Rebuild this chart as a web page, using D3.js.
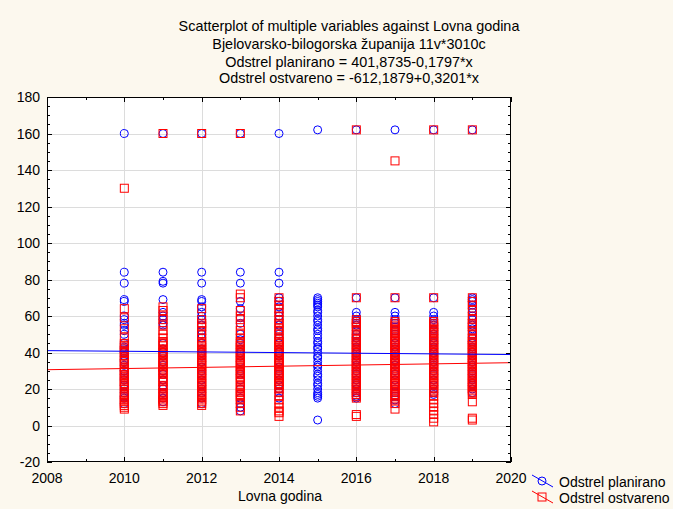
<!DOCTYPE html>
<html>
<head>
<meta charset="utf-8">
<script src="https://cdn.jsdelivr.net/npm/d3@7"></script>
<style>
  html, body { margin: 0; padding: 0; background: #FCF8EE; }
  svg { display: block; }
  text { font-family: "Liberation Sans", Arial, sans-serif; fill: #000; }
</style>
</head>
<body>
<svg id="chart" width="673" height="509"></svg>
<script>
// ---------- data ----------
const years = [2010, 2011, 2012, 2013, 2014, 2015, 2016, 2017, 2018, 2019];

const planned = [
  [160, 84, 78, 69, 68, 60, 58, 56, 55, 52, 50, 45, 43, 42, 41, 40, 40, 38, 36, 35, 33, 30, 30, 28, 26, 25, 22, 20, 18, 16, 15, 12],
  [160, 84, 79, 78, 69, 62, 60, 58, 56, 55, 45, 42, 40, 38, 35, 33, 30, 28, 25, 22, 20, 18, 15, 13],
  [160, 84, 78, 69, 68, 65, 62, 60, 58, 55, 52, 50, 48, 45, 42, 40, 38, 35, 32, 30, 28, 25, 22, 20, 18, 15, 12],
  [160, 84, 78, 68, 64, 59, 56, 50, 47, 45, 42, 40, 38, 35, 30, 28, 25, 20, 15, 12, 10, 8],
  [160, 84, 78, 70, 68, 65, 62, 60, 58, 55, 52, 50, 48, 45, 42, 40, 38, 35, 32, 30, 28, 25, 22, 20, 18, 15],
  [162, 70, 69, 68, 67, 66, 65, 63, 62, 60, 58, 57, 55, 53, 52, 50, 48, 46, 45, 43, 42, 40, 38, 37, 35, 33, 32, 30, 28, 27, 25, 23, 22, 20, 18, 17, 16, 15, 3],
  [162, 70, 62, 60, 58, 56, 55, 52, 50, 48, 46, 45, 43, 42, 40, 38, 36, 35, 33, 32, 30, 28, 25, 23, 22, 20, 18, 16, 15],
  [162, 70, 62, 60, 58, 56, 54, 52, 50, 48, 45, 43, 42, 40, 38, 36, 35, 33, 30, 28, 25, 22, 20, 18, 16, 14, 12],
  [162, 70, 62, 60, 58, 56, 55, 53, 52, 50, 48, 46, 45, 43, 42, 40, 38, 37, 35, 33, 32, 30, 28, 25, 22, 20, 18, 17],
  [162, 70, 69, 68, 66, 64, 62, 60, 58, 56, 55, 53, 52, 50, 48, 46, 45, 43, 42, 40, 38, 36, 35, 33, 32, 30, 28, 26, 25, 23, 22, 20, 18]
];

const realized = [
  [130, 64, 59, 53, 48, 45, 44, 43, 42, 41, 40, 38, 37, 36, 35, 34, 32, 31, 30, 29, 28, 27, 26, 25, 24, 23, 22, 21, 20, 18, 17, 16, 15, 14, 13, 12, 11, 10, 9],
  [160, 65, 63, 60, 58, 55, 52, 50, 48, 46, 45, 44, 42, 41, 40, 39, 38, 36, 35, 34, 33, 32, 31, 30, 29, 28, 26, 25, 24, 22, 21, 20, 18, 17, 16, 15, 14, 13, 12, 11],
  [160, 64, 58, 56, 55, 54, 52, 50, 48, 46, 45, 44, 43, 42, 41, 40, 39, 38, 37, 36, 35, 34, 33, 32, 31, 30, 29, 28, 27, 26, 25, 24, 23, 22, 21, 20, 19, 18, 17, 16, 15, 14, 13, 12, 11],
  [160, 72, 70, 63, 60, 58, 55, 52, 50, 48, 46, 45, 44, 43, 42, 41, 40, 39, 38, 37, 36, 35, 34, 33, 32, 31, 30, 29, 28, 27, 26, 25, 24, 22, 21, 20, 19, 18, 17, 16, 15, 14, 12, 10, 8],
  [70, 68, 66, 64, 62, 60, 58, 56, 55, 53, 52, 50, 48, 47, 46, 45, 44, 43, 42, 41, 40, 39, 38, 37, 36, 35, 34, 33, 32, 31, 30, 29, 28, 27, 26, 25, 24, 23, 22, 21, 20, 18, 16, 14, 12, 10, 8, 7, 5],
  [],
  [162, 70, 58, 57, 56, 55, 54, 52, 50, 49, 48, 47, 46, 45, 44, 43, 42, 41, 40, 39, 38, 37, 36, 35, 34, 33, 32, 31, 30, 29, 28, 27, 26, 25, 24, 23, 22, 21, 20, 19, 18, 17, 16, 15, 6, 5],
  [145, 70, 57, 56, 55, 54, 53, 52, 51, 50, 49, 48, 47, 46, 45, 44, 43, 42, 41, 40, 39, 38, 37, 36, 35, 34, 33, 32, 31, 30, 29, 28, 27, 26, 25, 24, 23, 22, 21, 20, 19, 18, 17, 16, 15, 14, 12, 9],
  [162, 70, 57, 56, 55, 54, 53, 52, 51, 50, 49, 48, 47, 46, 45, 44, 43, 42, 41, 40, 39, 38, 37, 36, 35, 34, 33, 32, 31, 30, 29, 28, 27, 26, 25, 24, 23, 22, 21, 20, 19, 18, 16, 14, 12, 10, 8, 6, 4, 2],
  [162, 70, 68, 66, 63, 60, 58, 56, 55, 54, 52, 50, 48, 47, 46, 45, 44, 43, 42, 41, 40, 39, 38, 37, 36, 35, 34, 33, 32, 31, 30, 29, 28, 27, 26, 25, 24, 23, 22, 21, 20, 19, 18, 17, 13, 4, 3]
];

const seriesNames = ["Odstrel planirano", "Odstrel ostvareno"];
const intercepts = [401.8735, -612.1879];
const slopes = [-0.1797, 0.3201];

const titleLines = [
  "Scatterplot of multiple variables against Lovna godina",
  "Bjelovarsko-bilogorska županija 11v*3010c",
  "Odstrel planirano = 401,8735-0,1797*x",
  "Odstrel ostvareno = -612,1879+0,3201*x"
];
const xLabel = "Lovna godina";
const xTicks = [2008, 2010, 2012, 2014, 2016, 2018, 2020];
const yTicks = [-20, 0, 20, 40, 60, 80, 100, 120, 140, 160, 180];

// ---------- layout ----------
const svg = d3.select("#chart");
const L = 47, R = 511, T = 97, B = 462;
const x = d3.scaleLinear().domain([2008, 2020]).range([L, R]);
const y = d3.scaleLinear().domain([-20, 180]).range([B, T]);
const colors = ["#0000FF", "#FF0000"];
const MR = 4; // marker half size

// plot background
svg.append("rect").attr("x", L).attr("y", T).attr("width", R - L).attr("height", B - T).attr("fill", "#fff");

// grid
const grid = svg.append("g").attr("stroke", "#DCDCDC").attr("stroke-width", 1);
xTicks.slice(1, -1).forEach(t => grid.append("line")
  .attr("x1", Math.round(x(t)) + 0.5).attr("x2", Math.round(x(t)) + 0.5).attr("y1", T).attr("y2", B));
yTicks.slice(1, -1).forEach(t => grid.append("line")
  .attr("y1", Math.round(y(t)) + 0.5).attr("y2", Math.round(y(t)) + 0.5).attr("x1", L).attr("x2", R));

// clip
svg.append("clipPath").attr("id", "clip").append("rect")
  .attr("x", L).attr("y", T).attr("width", R - L).attr("height", B - T);
const plot = svg.append("g").attr("clip-path", "url(#clip)");

// points
const pts = [];
years.forEach((yr, i) => {
  planned[i].forEach(v => pts.push({ s: 0, x: yr, v }));
});
years.forEach((yr, i) => {
  realized[i].forEach(v => pts.push({ s: 1, x: yr, v }));
});

plot.selectAll("circle.p").data(pts.filter(d => d.s === 0)).join("circle")
  .attr("class", "p")
  .attr("cx", d => x(d.x)).attr("cy", d => y(d.v)).attr("r", MR)
  .attr("fill", "none").attr("stroke", colors[0]).attr("stroke-width", 1);

plot.selectAll("rect.r").data(pts.filter(d => d.s === 1)).join("rect")
  .attr("class", "r")
  .attr("x", d => x(d.x) - MR).attr("y", d => y(d.v) - MR)
  .attr("width", 2 * MR).attr("height", 2 * MR)
  .attr("fill", "none").attr("stroke", colors[1]).attr("stroke-width", 1);

// regression lines
[0, 1].forEach(s => {
  const f = xx => intercepts[s] + slopes[s] * xx;
  plot.append("line")
    .attr("x1", x(2008)).attr("y1", y(f(2008)))
    .attr("x2", x(2020)).attr("y2", y(f(2020)))
    .attr("stroke", colors[s]).attr("stroke-width", 1);
});

// axes frame
const axG = svg.append("g").attr("stroke", "#000").attr("stroke-width", 1).attr("fill", "none");
axG.append("rect").attr("x", L + 0.5).attr("y", T + 0.5).attr("width", R - L - 1).attr("height", B - T - 1);

// ticks (inward on all sides)
const yMinor = d3.range(-20, 180.01, 5);
yMinor.forEach(t => {
  const major = yTicks.includes(t);
  const len = major ? 5 : 3;
  const yy = Math.round(y(t)) + 0.5;
  axG.append("line").attr("x1", L).attr("x2", L + len).attr("y1", yy).attr("y2", yy);
  axG.append("line").attr("x1", R).attr("x2", R - len).attr("y1", yy).attr("y2", yy);
});
d3.range(2008, 2020.01, 1).forEach(t => {
  const major = xTicks.includes(t);
  const len = major ? 5 : 3;
  const xx = Math.round(x(t)) + 0.5;
  axG.append("line").attr("x1", xx).attr("x2", xx).attr("y1", B).attr("y2", B - len);
  axG.append("line").attr("x1", xx).attr("x2", xx).attr("y1", T).attr("y2", T + len);
});

// tick labels
svg.append("g").selectAll("text").data(yTicks).join("text")
  .attr("x", 40).attr("y", d => y(d)).attr("dy", "0.36em")
  .attr("text-anchor", "end").attr("font-size", 14).text(d => d);
svg.append("g").selectAll("text").data(xTicks).join("text")
  .attr("x", d => x(d)).attr("y", 483)
  .attr("text-anchor", "middle").attr("font-size", 14).text(d => d);

// axis label
svg.append("text").attr("x", 280).attr("y", 501).attr("text-anchor", "middle")
  .attr("font-size", 14).text(xLabel);

// title
const titleY = [31, 49, 67, 83];
svg.append("g").selectAll("text").data(titleLines).join("text")
  .attr("x", 349).attr("y", (d, i) => titleY[i]).attr("text-anchor", "middle")
  .attr("font-size", 14.4).text(d => d);

// legend
const leg = svg.append("g");
seriesNames.forEach((name, s) => {
  const cy = 481 + s * 16;
  leg.append("line").attr("x1", 532).attr("y1", cy - 6).attr("x2", 553).attr("y2", cy + 6)
    .attr("stroke", colors[s]).attr("stroke-width", 1);
  if (s === 0) {
    leg.append("circle").attr("cx", 542).attr("cy", cy).attr("r", MR)
      .attr("fill", "none").attr("stroke", colors[s]);
  } else {
    leg.append("rect").attr("x", 542 - MR).attr("y", cy - MR).attr("width", 2 * MR).attr("height", 2 * MR)
      .attr("fill", "none").attr("stroke", colors[s]);
  }
  leg.append("text").attr("x", 559).attr("y", cy + 6).attr("font-size", 14).text(name);
});
</script>
</body>
</html>
